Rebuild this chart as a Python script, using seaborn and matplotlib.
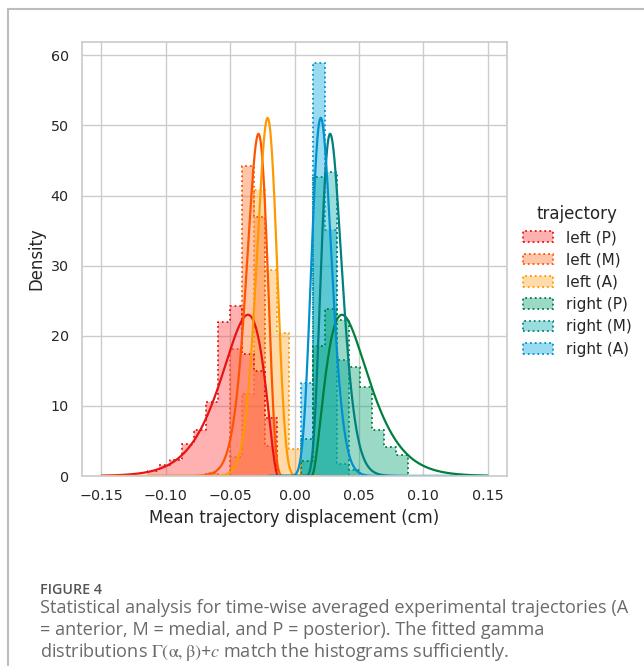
import math
import numpy as np
import pandas as pd
import matplotlib
matplotlib.use("Agg")
import matplotlib.pyplot as plt
import seaborn as sns
from matplotlib.lines import Line2D
from matplotlib.colors import to_rgb

# ---------------- data ----------------
trajectories = ["left (P)", "left (M)", "left (A)", "right (P)", "right (M)", "right (A)"]
fill_colors = ["#ff3c3c", "#ff6e28", "#ffa528", "#00a070", "#00aaa8", "#00a8dc"]
line_colors = ["#e81414", "#ff5500", "#ff9900", "#007f3f", "#008080", "#0090d0"]

# common histogram bins (22 bins)
bin_start = -0.1148
bin_width = 0.00922
n_bins = 22

# density per bin
dens_left_P = [0.76, 1.5, 2.3, 4.6, 6.5, 10.6, 21.9, 24.2, 17.4, 15.0, 8.3,
               0, 0, 0, 0, 0, 0, 0, 0, 0, 0, 0]
dens_left_M = [0, 0, 0, 0, 0, 0.4, 0, 18.1, 44.2, 37.0, 4.3,
               0, 0, 0, 0, 0, 0, 0, 0, 0, 0, 0]
dens_left_A = [0, 0, 0, 0, 0, 0, 0, 2.7, 11.7, 40.8, 29.4,
               20.4, 3.9, 0, 0, 0, 0, 0, 0, 0, 0, 0]
dens_right_P = [0, 0, 0, 0, 0, 0, 0, 0, 0, 0, 0,
                0, 0, 2.2, 18.5, 23.8, 22.3, 15.5, 12.75, 6.5, 4.2, 3.0]
dens_right_M = [0, 0, 0, 0, 0, 0, 0, 0, 0, 0, 0,
                0, 0, 5.3, 42.6, 43.4, 16.6, 0.8, 0, 0, 0, 0]
dens_right_A = [0, 0, 0, 0, 0, 0, 0, 0, 0, 0, 0,
                0, 0, 13.3, 58.9, 35.1, 1.7, 0, 0, 0, 0, 0]
densities = [dens_left_P, dens_left_M, dens_left_A, dens_right_P, dens_right_M, dens_right_A]

# fitted gamma distributions: sign * Gamma(shape, scale) + shift
gamma_shape = [3, 8, 20, 3, 8, 20]
gamma_scale = [0.01177, 0.003053, 0.001784, 0.01177, 0.003053, 0.001784]
gamma_shift = [-0.0126, -0.0066, 0.0130, 0.0133, 0.0063, -0.0135]
gamma_sign = [-1, -1, -1, 1, 1, 1]
curve_range_left = (-0.15, 0.02)
curve_range_right = (-0.02, 0.15)

x_ticks = [-0.15, -0.10, -0.05, 0.00, 0.05, 0.10, 0.15]
y_ticks = [0, 10, 20, 30, 40, 50, 60]

# ---------------- figure ----------------
sns.set_theme(style="whitegrid", context="notebook")
plt.rcParams["font.family"] = ["DejaVu Sans"]

W, H = 644, 666
fig = plt.figure(figsize=(W / 100, H / 100), dpi=100)
ax = fig.add_axes([82 / W, 1 - 476 / H, 425 / W, 434 / H])

edges = [bin_start + bin_width * i for i in range(n_bins + 1)]
centers = [(edges[i] + edges[i + 1]) / 2 for i in range(n_bins)]
rows = []
for name, d in zip(trajectories, densities):
    for c, v in zip(centers, d):
        rows.append({"x": c, "w": v, "trajectory": name})
df = pd.DataFrame(rows)
palette = dict(zip(trajectories, fill_colors))

sns.histplot(data=df, x="x", weights="w", hue="trajectory", hue_order=trajectories,
             bins=edges, stat="count", element="step", palette=palette,
             alpha=0.4, linestyle=":", linewidth=1.3, ax=ax)

# dotted outlines in the (darker) line colours
fill_rgb = [np.array(to_rgb(c)) for c in fill_colors]
def match_index(rgb):
    return int(np.argmin([np.abs(np.array(rgb[:3]) - f).sum() for f in fill_rgb]))
for coll in ax.collections:
    fc = coll.get_facecolor()
    if len(fc):
        coll.set_edgecolor(line_colors[match_index(fc[0])])

def gamma_pdf(x, k, theta, shift, sign):
    t = sign * (x - shift)
    out = np.zeros_like(x)
    m = t > 0
    out[m] = np.exp((k - 1) * np.log(t[m]) - t[m] / theta - math.lgamma(k) - k * math.log(theta))
    return out

for name, col, k, th, sh, sg in zip(trajectories, line_colors, gamma_shape, gamma_scale, gamma_shift, gamma_sign):
    lo, hi = curve_range_left if sg < 0 else curve_range_right
    xs = np.linspace(lo, hi, 600)
    ys = gamma_pdf(xs, k, th, sh, sg)
    sns.lineplot(x=xs, y=ys, color=col, linewidth=1.6, ax=ax, legend=False)

ax.set_xlim(-0.165, 0.165)
ax.set_ylim(0, 61.9)
ax.set_xticks(x_ticks)
ax.set_yticks(y_ticks)
ax.set_xticklabels([f"{v:.2f}".replace("-", "\u2212") for v in x_ticks])
ax.tick_params(labelsize=10.3)
ax.set_xlabel("Mean trajectory displacement (cm)", fontsize=11.9)
ax.set_ylabel("Density", fontsize=11.9)

sns.move_legend(ax, "upper left", bbox_to_anchor=(509 / W, 1 - 191 / H),
                bbox_transform=fig.transFigure, frameon=False,
                fontsize=11, title="trajectory", title_fontsize=12, labelspacing=0.48)
leg = ax.get_legend()
for h in leg.legend_handles:
    fc = h.get_facecolor()
    h.set_edgecolor(line_colors[match_index(fc)])

# outer frame
fig.add_artist(Line2D([8 / W, 1], [1 - 9 / H, 1 - 9 / H], color="#bdbdbd", lw=1.5,
                      transform=fig.transFigure))
fig.add_artist(Line2D([8 / W, 8 / W], [1 - 9 / H, 0], color="#bdbdbd", lw=1.5,
                      transform=fig.transFigure))

# caption
cap_font = ["Open Sans", "DejaVu Sans"]
fig.text(40 / W, 1 - 590 / H, "FIGURE 4", family=cap_font, fontsize=10.3,
         fontweight="semibold", color="#555555", va="center", ha="left")
cap_lines = ["Statistical analysis for time-wise averaged experimental trajectories (A",
             "= anterior, M = medial, and P = posterior). The fitted gamma",
             r"distributions $\mathrm{\Gamma(\alpha,\beta)}$+$c$ match the histograms sufficiently."]
for i, line in enumerate(cap_lines):
    fig.text(40 / W, 1 - (608 + 22 * i) / H, line, family=cap_font, fontsize=13.1,
             color="#6a6a6a", va="center", ha="left", math_fontfamily="stix")

fig.savefig("out.png", dpi=100)
